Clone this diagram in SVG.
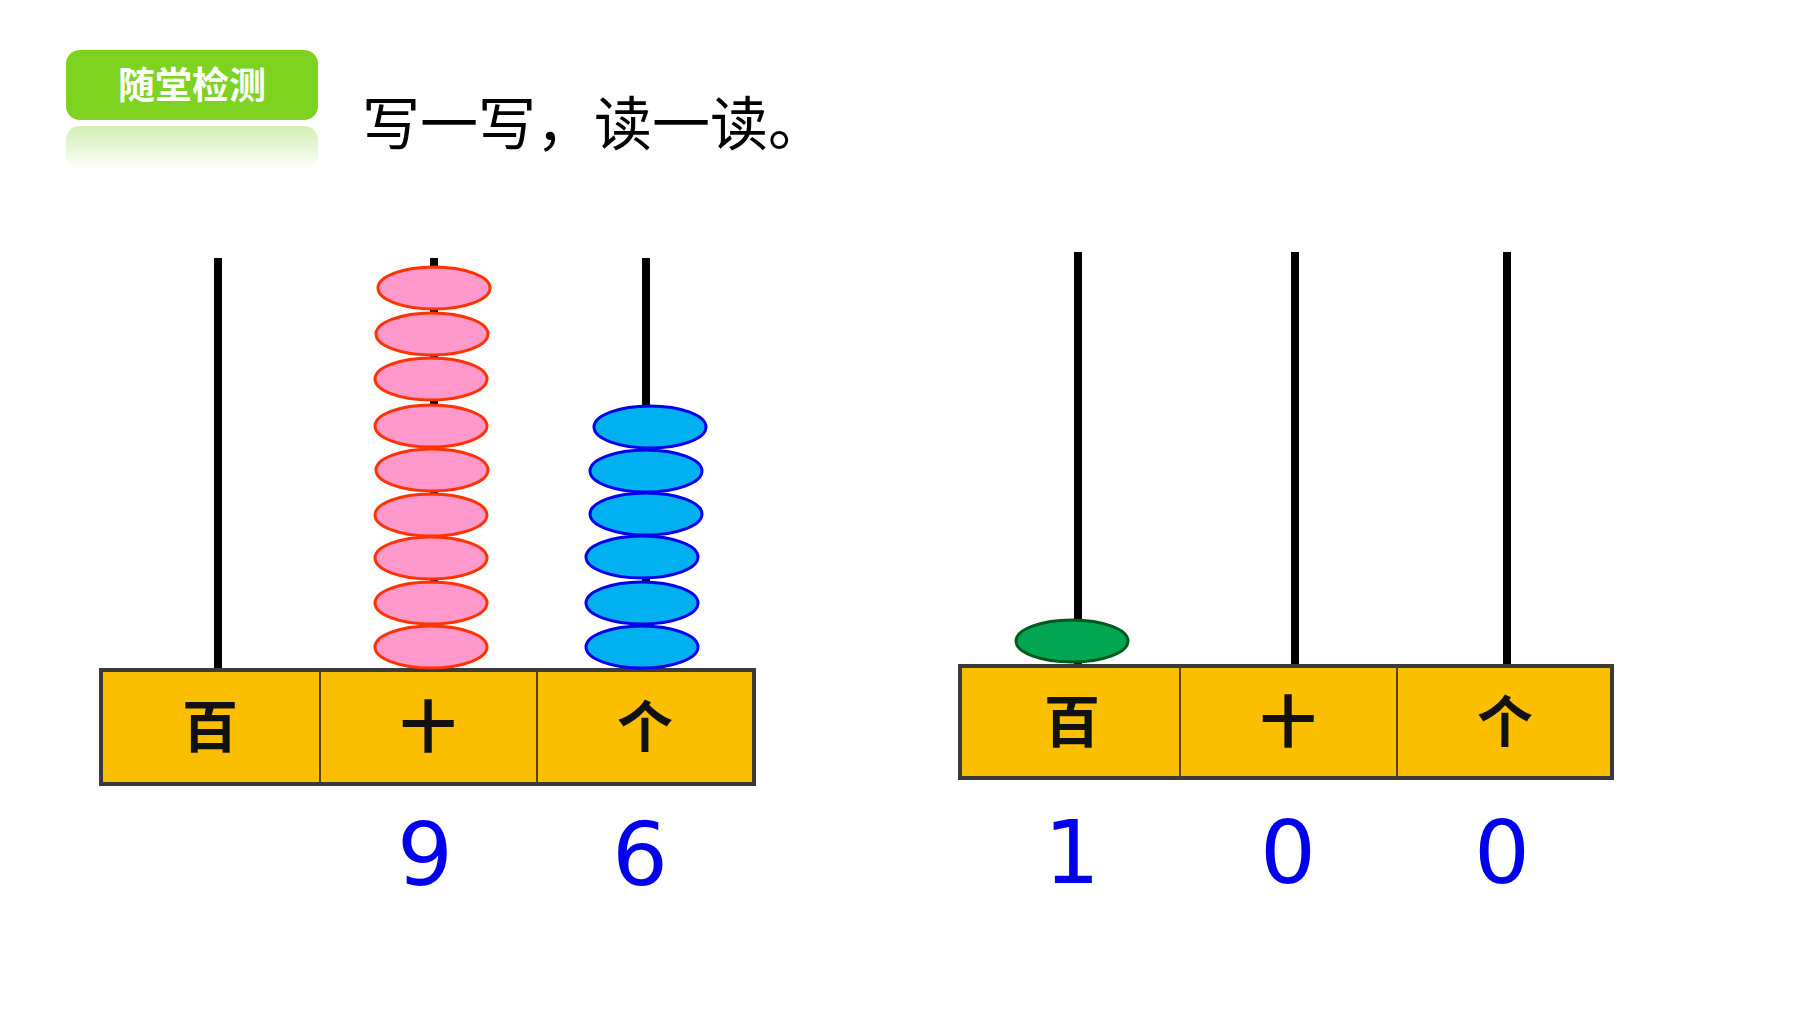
<svg xmlns="http://www.w3.org/2000/svg" width="1800" height="1020" viewBox="0 0 1800 1020">
<defs>
<linearGradient id="refl" x1="0" y1="0" x2="0" y2="1"><stop offset="0" stop-color="#7ed321" stop-opacity="0.35"/><stop offset="1" stop-color="#7ed321" stop-opacity="0"/></linearGradient>
<style>
.rod{stroke:#000;stroke-width:8}
.box{fill:#fbbf00;stroke:#3a3a3a;stroke-width:4}
.div{stroke:#5a4000;stroke-width:2}
.lab{font-family:"Noto Sans CJK SC",sans-serif;font-weight:bold;font-size:56px;text-anchor:middle;fill:#111}
.num{font-family:"DejaVu Sans",sans-serif;font-size:88px;text-anchor:middle;fill:#0000ee}
.pink{fill:#ff99cc;stroke:#ff3300;stroke-width:3}
.blue{fill:#00b0f0;stroke:#0000ee;stroke-width:3}
.green{fill:#00a651;stroke:#005a20;stroke-width:3}
</style>
</defs>
<g id="badge">
<rect x="66" y="50" width="252" height="70" rx="14" fill="#7ed321"/>
<rect x="66" y="126" width="252" height="44" rx="14" fill="url(#refl)"/>
<text x="192" y="99" font-family="Noto Sans CJK SC,sans-serif" font-weight="bold" font-size="37" fill="#fff" text-anchor="middle">随堂检测</text>
</g>
<text id="title" x="362" y="145" font-family="Noto Sans CJK SC,sans-serif" font-size="58" fill="#000">写一写，读一读。</text>
<g id="abacus1">
<line class="rod" x1="218" y1="258" x2="218" y2="670"/>
<line class="rod" x1="434" y1="258" x2="434" y2="670"/>
<line class="rod" x1="646" y1="258" x2="646" y2="670"/>
<rect class="box" x="101" y="670" width="653" height="114"/>
<line class="div" x1="320" y1="670" x2="320" y2="784"/>
<line class="div" x1="537" y1="670" x2="537" y2="784"/>
<text class="lab" x="210" y="747">百</text>
<text class="lab" x="428" y="747">十</text>
<text class="lab" x="645" y="747">个</text>
<g>
<ellipse class="pink" cx="434" cy="288" rx="56" ry="21"/>
<ellipse class="pink" cx="432" cy="334" rx="56" ry="21"/>
<ellipse class="pink" cx="431" cy="379" rx="56" ry="21"/>
<ellipse class="pink" cx="431" cy="426" rx="56" ry="21"/>
<ellipse class="pink" cx="432" cy="470" rx="56" ry="21"/>
<ellipse class="pink" cx="431" cy="515" rx="56" ry="21"/>
<ellipse class="pink" cx="431" cy="558" rx="56" ry="21"/>
<ellipse class="pink" cx="431" cy="603" rx="56" ry="21"/>
<ellipse class="pink" cx="431" cy="647" rx="56" ry="21"/>
</g>
<g>
<ellipse class="blue" cx="650" cy="427" rx="56" ry="21"/>
<ellipse class="blue" cx="646" cy="471" rx="56" ry="21"/>
<ellipse class="blue" cx="646" cy="514" rx="56" ry="21"/>
<ellipse class="blue" cx="642" cy="557" rx="56" ry="21"/>
<ellipse class="blue" cx="642" cy="603" rx="56" ry="21"/>
<ellipse class="blue" cx="642" cy="647" rx="56" ry="21"/>
</g>
<text class="num" x="425" y="885">9</text>
<text class="num" x="640" y="885">6</text>
</g>
<g id="abacus2">
<line class="rod" x1="1078" y1="252" x2="1078" y2="666"/>
<line class="rod" x1="1295" y1="252" x2="1295" y2="666"/>
<line class="rod" x1="1507" y1="252" x2="1507" y2="666"/>
<rect class="box" x="960" y="666" width="652" height="112"/>
<line class="div" x1="1180" y1="666" x2="1180" y2="778"/>
<line class="div" x1="1397" y1="666" x2="1397" y2="778"/>
<text class="lab" x="1072" y="742">百</text>
<text class="lab" x="1288" y="742">十</text>
<text class="lab" x="1505" y="742">个</text>
<ellipse class="green" cx="1072" cy="641" rx="56" ry="21"/>
<text class="num" x="1072" y="883">1</text>
<text class="num" x="1288" y="883">0</text>
<text class="num" x="1502" y="883">0</text>
</g>
</svg>
